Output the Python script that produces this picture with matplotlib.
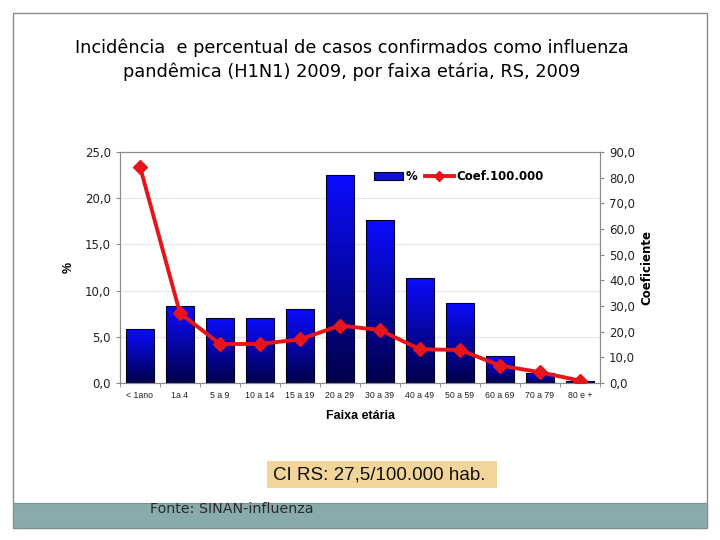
import matplotlib.pyplot as plt
import numpy as np
from matplotlib.colors import LinearSegmentedColormap
from matplotlib.patches import Rectangle
from matplotlib.lines import Line2D

# faixas etarias e valores
faixas = ['< 1ano', '1a 4', '5 a 9', '10 a 14', '15 a 19', '20 a 29', '30 a 39',
          '40 a 49', '50 a 59', '60 a 69', '70 a 79', '80 e +']
percentual = [5.8, 8.3, 7.0, 7.0, 8.0, 22.5, 17.6, 11.4, 8.7, 2.9, 1.1, 0.2]
coef = [84.3, 27.2, 15.2, 15.2, 17.0, 22.4, 20.6, 13.1, 12.9, 6.8, 4.2, 0.9]

left_ticks = [0, 5, 10, 15, 20, 25]
right_ticks = [0, 10, 20, 30, 40, 50, 60, 70, 80, 90]

fig = plt.figure(figsize=(7.2, 5.4), dpi=100)
fig.patch.set_facecolor('white')

# moldura do slide e faixa inferior
fig.add_artist(Rectangle((13/720, 1 - 528/540), 694/720, (528 - 13)/540, transform=fig.transFigure,
                         facecolor='white', edgecolor='#8c8c8c', lw=1, zorder=0))
fig.add_artist(Rectangle((13/720, 1 - 528/540), 694/720, 25/540, transform=fig.transFigure,
                         facecolor='#8aabab', edgecolor='#7f8f8f', lw=0.8, zorder=1))

fig.text(0.489, 1 - 48/540, 'Incidência  e percentual de casos confirmados como influenza',
         ha='center', va='center', fontsize=12.8, family='DejaVu Sans')
fig.text(0.489, 1 - 72/540, 'pandêmica (H1N1) 2009, por faixa etária, RS, 2009',
         ha='center', va='center', fontsize=12.8, family='DejaVu Sans')

ax = fig.add_axes([120/720, 1 - 383/540, 480/720, 231/540])
x = np.arange(len(faixas))

cmap = LinearSegmentedColormap.from_list('azul', ['#00004a', '#0c0cff'])
grad = np.linspace(0, 1, 256).reshape(-1, 1)
bars = ax.bar(x, percentual, width=0.7, color='none', edgecolor='#000020', lw=0.8, zorder=3)
for b in bars:
    x0, w, h = b.get_x(), b.get_width(), b.get_height()
    im = ax.imshow(grad, extent=[x0, x0 + w, 0, h], origin='lower', aspect='auto',
                   cmap=cmap, zorder=2)
    im.set_clip_path(b)

ax.set_xlim(-0.5, len(faixas) - 0.5)
ax.set_ylim(0, 25)
ax.set_yticks(left_ticks)
ax.set_yticklabels([f'{v:.1f}'.replace('.', ',') for v in left_ticks], fontsize=8.5, color='#222222')
ax.set_xticks(x)
ax.set_xticklabels(faixas, fontsize=6.3, family='Liberation Sans', color='#222222')
ax.set_xticks(np.arange(-0.5, len(faixas), 1), minor=True)
ax.tick_params(axis='x', which='major', length=0, pad=6)
ax.tick_params(axis='x', which='minor', length=3, color='#888888')
ax.tick_params(axis='y', length=3, color='#888888')
ax.grid(axis='y', color='#e6e6e6', lw=0.8, zorder=0)
ax.set_axisbelow(True)
for s in ax.spines.values():
    s.set_color('#8c8c8c')
    s.set_linewidth(0.8)
ax.set_ylabel('%', fontsize=9, fontweight='bold', family='Liberation Sans', labelpad=7)
ax.set_xlabel('Faixa etária', fontsize=9, fontweight='bold', family='Liberation Sans', labelpad=7)

ax2 = ax.twinx()
ax2.plot(x, coef, color='#e8141b', lw=2.8, marker='D', markersize=7, zorder=5)
ax2.set_ylim(0, 90)
ax2.set_yticks(right_ticks)
ax2.set_yticklabels([f'{v:.1f}'.replace('.', ',') for v in right_ticks], fontsize=8.5, color='#222222')
ax2.tick_params(axis='y', length=3, color='#888888')
for s in ax2.spines.values():
    s.set_color('#8c8c8c')
    s.set_linewidth(0.8)
ax2.set_ylabel('Coeficiente', fontsize=8.5, fontweight='bold', labelpad=4)

handles = [Rectangle((0, 0), 1, 1, facecolor='#1010d0', edgecolor='#000020', lw=0.8),
           Line2D([0], [0], color='#e8141b', lw=2.8, marker='D', markersize=5)]
ax2.legend(handles, ['%', 'Coef.100.000'], loc='upper right', bbox_to_anchor=(0.905, 0.967),
           ncol=2, frameon=False, prop={'weight': 'bold', 'size': 8.5}, handlelength=2.5,
           handletextpad=0.2, columnspacing=0.6)

# caixa do coeficiente de incidencia
fig.add_artist(Rectangle((267/720, 1 - 488/540), 230/720, 27/540, transform=fig.transFigure,
                         facecolor='#f2d59a', edgecolor='none', zorder=2))
fig.text(273/720, 1 - 475/540, 'CI RS: 27,5/100.000 hab.', ha='left', va='center', fontsize=13.5,
         family='Liberation Sans', color='#111111', zorder=3)
fig.text(150/720, 1 - 509/540, 'Fonte: SINAN-influenza', ha='left', va='center', fontsize=10.3,
         family='DejaVu Sans', color='#2a2a2a', zorder=3)

fig.savefig('out.png', dpi=100)
